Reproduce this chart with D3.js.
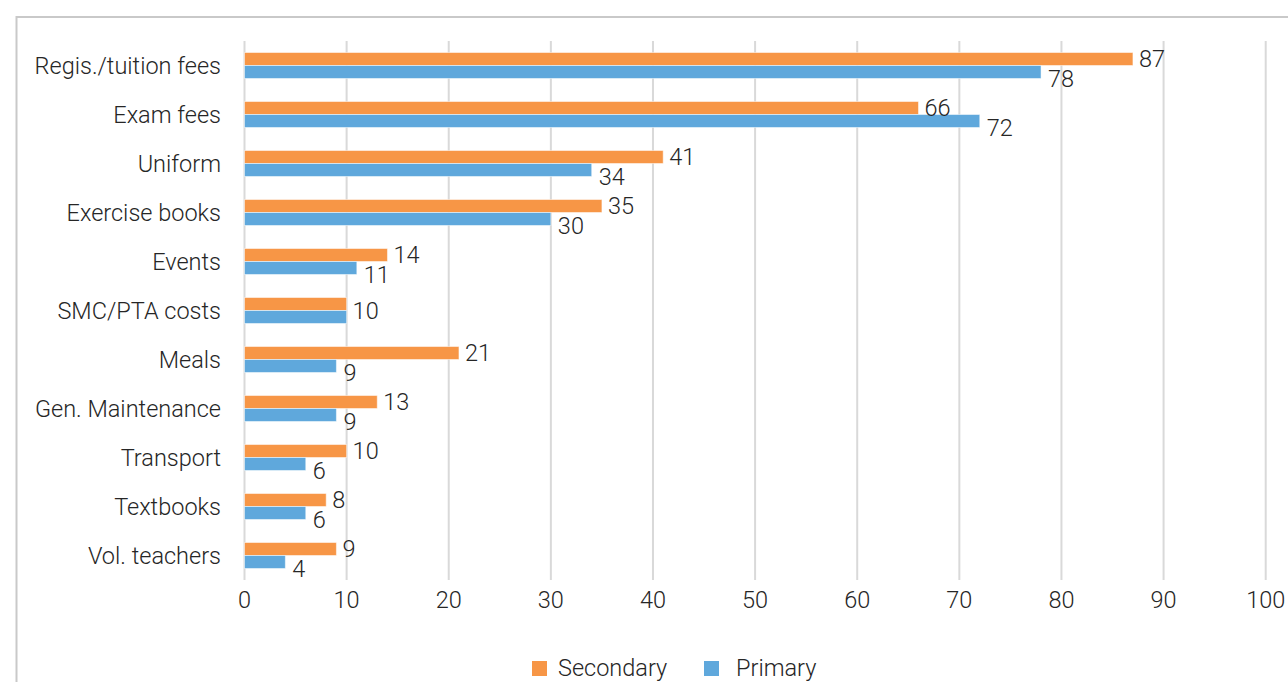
<!DOCTYPE html>
<html>
<head>
<meta charset="utf-8">
<script src="https://cdn.jsdelivr.net/npm/d3@7"></script>
<style>
  html, body { margin: 0; padding: 0; background: #fff; }
  svg { display: block; font-family: Roboto, "Noto Sans", sans-serif; font-weight: 300; }
</style>
</head>
<body>
<svg id="chart" width="1288" height="682"></svg>
<script>
// cost items, top to bottom
const categories = ['Regis./tuition fees', 'Exam fees', 'Uniform', 'Exercise books', 'Events',
  'SMC/PTA costs', 'Meals', 'Gen. Maintenance', 'Transport', 'Textbooks', 'Vol. teachers'];
const secondary = [87, 66, 41, 35, 14, 10, 21, 13, 10, 8, 9];
const primary   = [78, 72, 34, 30, 11, 10, 9, 9, 6, 6, 4];
const seriesNames = ['Secondary', 'Primary'];
const xTicks = [0, 10, 20, 30, 40, 50, 60, 70, 80, 90, 100];

const colors = { Secondary: '#f79646', Primary: '#5fa8dc' };
const textCol = '#262626';
const fontSize = 23.5;

const svg = d3.select('#chart');

// outer chart border (cropped on the right and bottom)
svg.append('rect').attr('x', 16.5).attr('y', 17).attr('width', 1300).attr('height', 700)
  .attr('fill', 'none').attr('stroke', '#c9c9c9').attr('stroke-width', 2);

const x = d3.scaleLinear().domain([0, 100]).range([244.5, 1265.7]);
const y = d3.scaleBand().domain(categories).range([41, 580]).paddingInner(0.47).paddingOuter(0.235);
const ys = d3.scaleBand().domain(seriesNames).range([0, y.bandwidth()]);

// vertical gridlines
svg.append('g').selectAll('line').data(xTicks).join('line')
  .attr('x1', d => x(d)).attr('x2', d => x(d)).attr('y1', 41).attr('y2', 580)
  .attr('stroke', '#d9d9d9').attr('stroke-width', 2);

// x tick labels
svg.append('g').selectAll('text').data(xTicks).join('text')
  .attr('x', d => x(d)).attr('y', 600).attr('dy', '0.35em')
  .attr('text-anchor', 'middle').attr('font-size', fontSize).attr('fill', textCol)
  .text(d => d);

// category labels
svg.append('g').selectAll('text').data(categories).join('text')
  .attr('x', 221).attr('y', d => y(d) + y.bandwidth() / 2).attr('dy', '0.35em')
  .attr('text-anchor', 'end').attr('font-size', fontSize).attr('fill', textCol)
  .text(d => d);

const rows = [];
categories.forEach((c, i) => {
  rows.push({ cat: c, s: 'Secondary', v: secondary[i], same: secondary[i] === primary[i] });
  rows.push({ cat: c, s: 'Primary', v: primary[i], same: secondary[i] === primary[i] });
});

svg.append('g').selectAll('rect').data(rows).join('rect')
  .attr('x', x(0)).attr('y', d => y(d.cat) + ys(d.s))
  .attr('width', d => x(d.v) - x(0)).attr('height', ys.bandwidth())
  .attr('fill', d => colors[d.s])
  .attr('stroke', '#fff').attr('stroke-opacity', 0.5).attr('stroke-width', 1);

// value labels: secondary beside its bar, primary a little below its bar;
// when both are equal one label sits between the two bars
svg.append('g').selectAll('text').data(rows.filter(d => !(d.same && d.s === 'Primary'))).join('text')
  .attr('x', d => x(d.v) + (d.s === 'Secondary' ? 6 : 7))
  .attr('y', d => d.same ? y(d.cat) + y.bandwidth() / 2
    : y(d.cat) + ys(d.s) + ys.bandwidth() / 2 + (d.s === 'Primary' ? 7 : 0))
  .attr('dy', '0.35em').attr('font-size', fontSize).attr('fill', textCol)
  .text(d => d.v);

// legend
const lg = svg.append('g');
const legendX = { Secondary: 532, Primary: 704 };
seriesNames.forEach(s => {
  lg.append('rect').attr('x', legendX[s]).attr('y', 661).attr('width', 15).attr('height', 15)
    .attr('fill', colors[s]);
  lg.append('text').attr('x', legendX[s] + (s === 'Secondary' ? 26 : 32)).attr('y', 668).attr('dy', '0.35em')
    .attr('font-size', fontSize).attr('fill', textCol).text(s);
});
</script>
</body>
</html>
